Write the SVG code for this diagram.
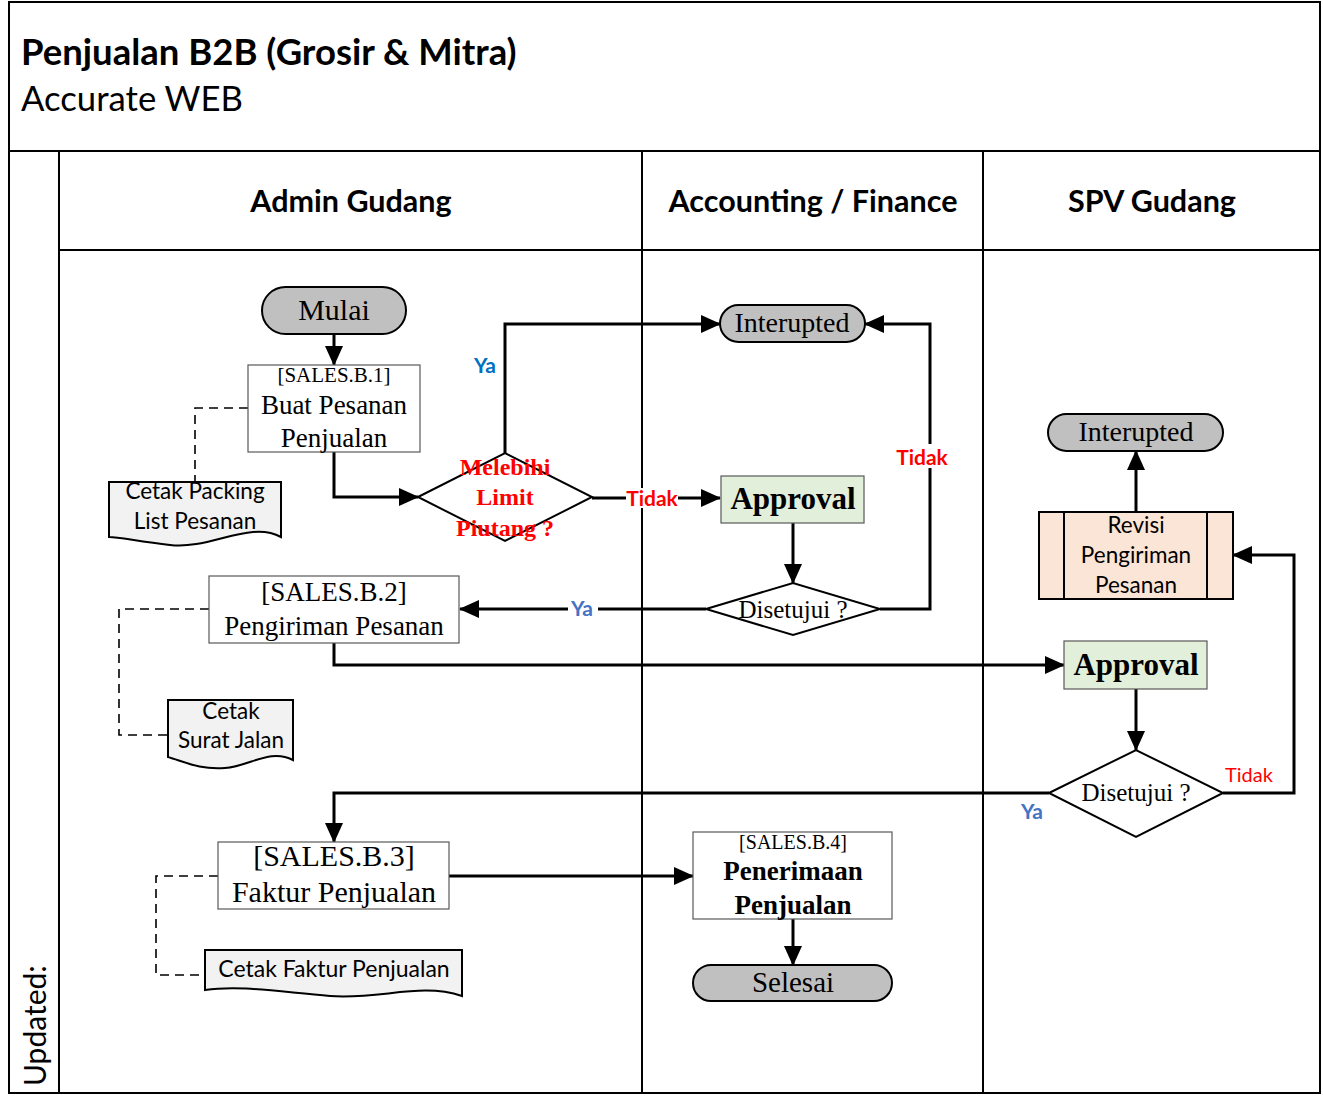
<svg xmlns="http://www.w3.org/2000/svg" width="1323" height="1106" viewBox="0 0 1323 1106">
<style>
.lane{fill:none;stroke:#000;stroke-width:2}
.hdr{font-family:Lato,"Liberation Sans",sans-serif;font-weight:bold;font-size:30.5px;fill:#000;text-anchor:middle}
.term{fill:#c0c0c0;stroke:#000;stroke-width:2}
.proc{fill:#fff;stroke:#595959;stroke-width:1.2}
.appr{fill:#e2efda;stroke:#595959;stroke-width:1.2}
.dia{fill:#fff;stroke:#000;stroke-width:2}
.doc{fill:#f2f2f2;stroke:#000;stroke-width:2}
.serif{font-family:"Liberation Serif",serif;fill:#000;text-anchor:middle}
.sans{font-family:Lato,"Liberation Sans",sans-serif;fill:#000;text-anchor:middle}
.conn{fill:none;stroke:#000;stroke-width:3}
.dash{fill:none;stroke:#000;stroke-width:1.6;stroke-dasharray:9,6}
.red{fill:#ff0000}
.lbl{font-family:Lato,"Liberation Sans",sans-serif;font-weight:bold;font-size:21px;text-anchor:middle}
</style>
<defs>
<marker id="ah" markerUnits="userSpaceOnUse" markerWidth="20" markerHeight="18" refX="19" refY="9" orient="auto">
<path d="M0,0 L20,9 L0,18 Z" fill="#000"/>
</marker>
</defs>
<rect width="1323" height="1106" fill="#fff"/>
<g id="frame">
<rect x="9" y="2" width="1311" height="1091" class="lane"/>
<line x1="9" y1="151" x2="1320" y2="151" class="lane"/>
<line x1="59" y1="151" x2="59" y2="1093" class="lane"/>
<line x1="642" y1="151" x2="642" y2="1093" class="lane"/>
<line x1="983" y1="151" x2="983" y2="1093" class="lane"/>
<line x1="59" y1="250" x2="1320" y2="250" class="lane"/>
<text x="21" y="65" font-family="Lato,'Liberation Sans',sans-serif" font-weight="bold" font-size="36.5" fill="#000">Penjualan B2B (Grosir &amp; Mitra)</text>
<text x="21" y="111" font-family="Lato,'Liberation Sans',sans-serif" font-size="34.7" fill="#000">Accurate WEB</text>
<text class="hdr" x="351" y="212">Admin Gudang</text>
<text class="hdr" x="813" y="212">Accounting / Finance</text>
<text class="hdr" x="1152" y="212">SPV Gudang</text>
<text transform="translate(46,1086) rotate(-90)" font-family="Lato,'Liberation Sans',sans-serif" font-size="30" fill="#000">Updated:</text>
</g>
<g id="connectors">
<line x1="334" y1="334" x2="334" y2="365" class="conn" marker-end="url(#ah)"/>
<polyline points="334,452 334,497 418,497" class="conn" marker-end="url(#ah)"/>
<polyline points="505,453 505,324 720,324" class="conn" marker-end="url(#ah)"/>
<line x1="592" y1="498" x2="720" y2="498" class="conn" marker-end="url(#ah)"/>
<line x1="793" y1="523" x2="793" y2="583" class="conn" marker-end="url(#ah)"/>
<polyline points="880,609 930,609 930,324 865,324" class="conn" marker-end="url(#ah)"/>
<line x1="706" y1="609" x2="460" y2="609" class="conn" marker-end="url(#ah)"/>
<polyline points="334,643 334,665 1064,665" class="conn" marker-end="url(#ah)"/>
<line x1="1136" y1="689" x2="1136" y2="750" class="conn" marker-end="url(#ah)"/>
<polyline points="1223,793 1294,793 1294,555 1233,555" class="conn" marker-end="url(#ah)"/>
<polyline points="1049,793 334,793 334,842" class="conn" marker-end="url(#ah)"/>
<line x1="1136" y1="512" x2="1136" y2="451" class="conn" marker-end="url(#ah)"/>
<line x1="449" y1="876" x2="693" y2="876" class="conn" marker-end="url(#ah)"/>
<line x1="793" y1="919" x2="793" y2="965" class="conn" marker-end="url(#ah)"/>
<polyline points="248,408 195,408 195,482" class="dash"/>
<polyline points="209,609 119,609 119,735 168,735" class="dash"/>
<polyline points="218,876 156,876 156,975 205,975" class="dash"/>
<text x="485" y="373" class="lbl" fill="#0070c0">Ya</text>
<rect x="626" y="488" width="52" height="20" fill="#fff"/>
<text x="652" y="506" class="lbl" fill="#ff0000">Tidak</text>
<rect x="892" y="444" width="60" height="24" fill="#fff"/>
<text x="922" y="465" class="lbl" fill="#ff0000" font-size="23">Tidak</text>
<rect x="568" y="599" width="30" height="20" fill="#fff"/>
<text x="582" y="616" class="lbl" fill="#4472c4">Ya</text>
<text x="1249" y="782" font-family="Lato,'Liberation Sans',sans-serif" font-size="20" fill="#ff0000" text-anchor="middle">Tidak</text>
<text x="1032" y="819" class="lbl" fill="#4472c4">Ya</text>
</g>
<g id="mulai">
<rect x="262" y="287" width="144" height="47" rx="23.5" class="term"/>
<text x="334" y="320" class="serif" font-size="30">Mulai</text>
</g>
<g id="sales-b1">
<rect x="248" y="365" width="172" height="87" class="proc"/>
<text x="334" y="382" class="serif" font-size="21">[SALES.B.1]</text>
<text x="334" y="414" class="serif" font-size="27">Buat Pesanan</text>
<text x="334" y="447" class="serif" font-size="27">Penjualan</text>
</g>
<g id="doc-packing">
<path d="M109,482 H281 V537 C250,520 210,550 170,545 C140,542 120,537 109,537 Z" class="doc"/>
<text x="195" y="499" class="sans" font-size="22.5">Cetak Packing</text>
<text x="195" y="529" class="sans" font-size="22.5">List Pesanan</text>
</g>
<g id="dec-limit">
<polygon points="418,497 505,453 592,497 505,541" class="dia"/>
<text x="505" y="475" class="serif red" font-size="24" font-weight="bold">Melebihi</text>
<text x="505" y="505" class="serif red" font-size="24" font-weight="bold">Limit</text>
<text x="505" y="536" class="serif red" font-size="24" font-weight="bold">Piutang ?</text>
</g>
<g id="interupted-acc">
<rect x="720" y="305" width="145" height="37" rx="18.5" class="term"/>
<text x="792" y="332" class="serif" font-size="28">Interupted</text>
</g>
<g id="approval-acc">
<rect x="721" y="476" width="143" height="47" class="appr"/>
<text x="793" y="509" class="serif" font-size="31" font-weight="bold">Approval</text>
</g>
<g id="dec-acc">
<polygon points="706,609 793,583 880,609 793,635" class="dia"/>
<text x="793" y="618" class="serif" font-size="25">Disetujui ?</text>
</g>
<g id="sales-b2">
<rect x="209" y="576" width="250" height="67" class="proc"/>
<text x="334" y="601" class="serif" font-size="27">[SALES.B.2]</text>
<text x="334" y="635" class="serif" font-size="27">Pengiriman Pesanan</text>
</g>
<g id="doc-surat">
<path d="M168,700 H293 V760 C270,748 250,766 225,768 C200,770 185,762 168,757 Z" class="doc"/>
<text x="231" y="719" class="sans" font-size="22.5">Cetak</text>
<text x="231" y="748" class="sans" font-size="22.5">Surat Jalan</text>
</g>
<g id="approval-spv">
<rect x="1064" y="641" width="143" height="48" class="appr"/>
<text x="1136" y="675" class="serif" font-size="31" font-weight="bold">Approval</text>
</g>
<g id="dec-spv">
<polygon points="1049,793 1136,750 1223,793 1136,837" class="dia"/>
<text x="1136" y="801" class="serif" font-size="25">Disetujui ?</text>
</g>
<g id="revisi">
<rect x="1039" y="512" width="194" height="87" fill="#fbe5d6" stroke="#000" stroke-width="2"/>
<line x1="1064" y1="512" x2="1064" y2="599" stroke="#000" stroke-width="2"/>
<line x1="1207" y1="512" x2="1207" y2="599" stroke="#000" stroke-width="2"/>
<text x="1136" y="533" class="sans" font-size="22.5">Revisi</text>
<text x="1136" y="563" class="sans" font-size="22.5">Pengiriman</text>
<text x="1136" y="593" class="sans" font-size="22.5">Pesanan</text>
</g>
<g id="interupted-spv">
<rect x="1048" y="414" width="175" height="37" rx="18.5" class="term"/>
<text x="1136" y="441" class="serif" font-size="28">Interupted</text>
</g>
<g id="sales-b3">
<rect x="218" y="842" width="231" height="67" class="proc"/>
<text x="334" y="866" class="serif" font-size="30">[SALES.B.3]</text>
<text x="334" y="902" class="serif" font-size="30">Faktur Penjualan</text>
</g>
<g id="doc-faktur">
<path d="M205,950 H462 V996 C420,982 380,1000 330,996 C280,992 240,985 205,990 Z" class="doc"/>
<text x="334" y="977" class="sans" font-size="23">Cetak Faktur Penjualan</text>
</g>
<g id="sales-b4">
<rect x="693" y="832" width="199" height="87" class="proc"/>
<text x="793" y="849" class="serif" font-size="20">[SALES.B.4]</text>
<text x="793" y="880" class="serif" font-size="27" font-weight="bold">Penerimaan</text>
<text x="793" y="914" class="serif" font-size="27" font-weight="bold">Penjualan</text>
</g>
<g id="selesai">
<rect x="693" y="965" width="199" height="36" rx="18" class="term"/>
<text x="793" y="992" class="serif" font-size="29">Selesai</text>
</g>
</svg>
